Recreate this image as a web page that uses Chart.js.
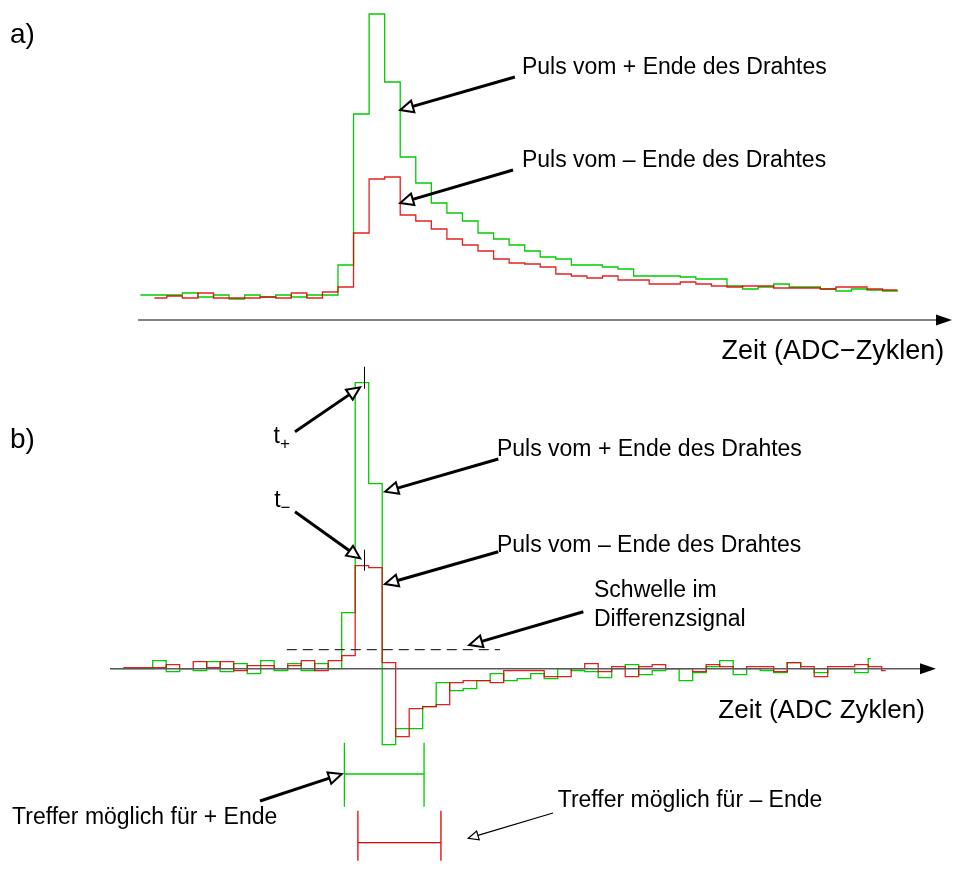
<!DOCTYPE html>
<html>
<head>
<meta charset="utf-8">
<script src="https://cdn.jsdelivr.net/npm/chart.js@4/dist/chart.umd.min.js"></script>
<style>
  html, body { margin: 0; padding: 0; background: #fff; }
  #wrap { position: relative; width: 953px; height: 871px; }
  canvas { display: block; }
</style>
</head>
<body>
<div id="wrap"><canvas id="pulses" width="953" height="871"></canvas></div>
<script>
// ---------- a) raw pulses from both wire ends (ADC cycle bins, ADC counts) ----------
const cyclesA = [0,1,2,3,4,5,6,7,8,9,10,11,12,13,14,15,16,17,18,19,20,21,22,23,24,
                 25,26,27,28,29,30,31,32,33,34,35,36,37,38,39,40,41,42,43,44,45,46,47,48];
const plusEndA  = [1,1,1,3,-1,1,-3,1,-1,1,-1,1,1,31,182,282,214,139,113,93,83,75,63,57,51,
                   45,39,37,31,31,29,27,20,20,20,19,17,17,10,7,9,12,9,9,7,5,7,6,5];
const minusEndA = [null,-2,0,-2,3,-2,-2,-2,-1,-2,3,-2,4,9,63,117,119,81,75,67,57,51,45,37,33,
                   32,29,22,20,18,20,16,16,12,12,14,12,10,9,10,10,8,8,8,7,9,9,7,6];
const plusSpanA  = [0.3, 49];     // first / last sample time of each trace
const minusSpanA = [1.2, 48.95];

// ---------- b) differentiated pulses ----------
const cyclesB = [0,1,2,3,4,5,6,7,8,9,10,11,12,13,14,15,16,17,18,19,20,21,22,23,24,25,26,27,28,
                 29,30,31,32,33,34,35,36,37,38,39,40,41,42,43,44,45,46,47,48,49,50,51,52,53,54,55,56,57];
const plusEndB  = [0,0,0,8,-3,0,-2,7,-3,5,-5,8,-2,5,-2,5,0,56,286,185,-76,-60,-60,-38,-14,-22,-20,-12,
                   -5,-12,-10,-5,-10,0,-2,-3,-9,0,4,-6,-2,0,-12,-4,2,8,-6,0,-2,-4,6,0,-4,0,0,-4,10,null];
const minusEndB = [1,1,1,1,4,0,7,1,7,-2,3,3,0,3,8,-2,8,13,103,101,6,-68,-40,-38,-36,-14,-12,-12,
                   -14,-2,-2,-2,-8,-8,0,5,-3,2,-8,2,4,0,0,-3,4,2,0,2,2,-3,6,2,-8,2,2,4,2,-2];
const plusSpanB  = [-0.15, 56.2];
const minusSpanB = [0.82, 57.3];
const thresholdB = 19;            // discriminator threshold on the difference signal
const windowPlus  = [17.2, 23.1]; // hit windows (ADC cycles)
const windowMinus = [18.2, 24.35];
const tPlus = 18.67, tMinus = 18.67;

// ---------- layout of the two panels on the page ----------
const W = 953, H = 871;
const panelA = { x0: 135.7, dx: 15.56, y0: 296,   dy: 1 };
const panelB = { x0: 112.2, dx: 13.5,  y0: 668.7, dy: 1 };

const GREEN = 'rgb(0,205,0)';
const RED = 'rgba(225,0,0,0.88)';
const FONT = '"Liberation Sans", Arial, Helvetica, sans-serif';

// histogram outline: each bin drawn as a flat step, joined by vertical edges
function steps(bins, vals, span) {
  const pts = [];
  let first = true;
  let lastIdx = -1;
  for (let i = 0; i < bins.length; i++) if (vals[i] !== null && vals[i] !== undefined) lastIdx = i;
  for (let i = 0; i < bins.length; i++) {
    const v = vals[i];
    if (v === null || v === undefined) continue;
    let x0 = bins[i], x1 = bins[i] + 1;
    if (first) { x0 = span[0]; first = false; }
    if (i === lastIdx) x1 = span[1];
    pts.push({ x: x0, y: v }, { x: x1, y: v });
  }
  return pts;
}

function range(p) {
  return {
    x: { min: -p.x0 / p.dx, max: (W - p.x0) / p.dx },
    y: { min: (p.y0 - H) / p.dy, max: p.y0 / p.dy }
  };
}
const rA = range(panelA), rB = range(panelB);

// ---------- annotations (in each panel's data units) ----------
const labels = [
  { p: 'A', x: -8.08, y: 261, text: 'a)', size: 28 },
  { p: 'A', x: 24.82, y: 228, text: 'Puls vom + Ende des Drahtes', size: 23 },
  { p: 'A', x: 24.82, y: 135, text: 'Puls vom \u2013 Ende des Drahtes', size: 23 },
  { p: 'A', x: 51.96, y: -56, text: 'Zeit (ADC\u2212Zyklen)', size: 27, align: 'right' },
  { p: 'B', x: -7.57, y: 228.7, text: 'b)', size: 28 },
  { p: 'B', x: 28.5, y: 218.7, text: 'Puls vom + Ende des Drahtes', size: 23 },
  { p: 'B', x: 28.5, y: 122.7, text: 'Puls vom \u2013 Ende des Drahtes', size: 23 },
  { p: 'B', x: 35.69, y: 77.7, text: 'Schwelle im', size: 23 },
  { p: 'B', x: 35.69, y: 48.7, text: 'Differenzsignal', size: 23 },
  { p: 'B', x: 60.2, y: -42.3, text: 'Zeit (ADC Zyklen)', size: 26, align: 'right' },
  { p: 'B', x: -7.42, y: -149.3, text: 'Treffer m\u00f6glich f\u00fcr + Ende', size: 23 },
  { p: 'B', x: 33.0, y: -132.3, text: 'Treffer m\u00f6glich f\u00fcr \u2013 Ende', size: 23 }
];
const arrows = [
  { p: 'A', from: [24.37, 219], to: [17.0, 186], w: 3 },
  { p: 'A', from: [24.25, 126], to: [17.0, 93], w: 3 },
  { p: 'B', from: [13.54, 237], to: [18.36, 281.4], w: 3 },
  { p: 'B', from: [13.54, 157], to: [18.36, 110.4], w: 3 },
  { p: 'B', from: [28.6, 209.7], to: [20.21, 177], w: 3 },
  { p: 'B', from: [28.6, 117], to: [20.21, 84.7], w: 3 },
  { p: 'B', from: [34.9, 57], to: [26.45, 23.7], w: 3 },
  { p: 'B', from: [10.95, -132.3], to: [17.0, -105.3], w: 3 },
  { p: 'B', from: [32.65, -144.3], to: [26.38, -169.6], w: 1.2, head: 10, half: 4.5 }
];

function px(chart, p, x, y) {
  const sx = chart.scales['x' + p], sy = chart.scales['y' + p];
  return [sx.getPixelForValue(x), sy.getPixelForValue(y)];
}

function drawArrow(ctx, a, b, w, head, half) {
  const ang = Math.atan2(b[1] - a[1], b[0] - a[0]);
  const bx = b[0] - Math.cos(ang) * head, by = b[1] - Math.sin(ang) * head;
  ctx.strokeStyle = '#000';
  ctx.lineCap = 'butt';
  ctx.lineWidth = w;
  ctx.beginPath(); ctx.moveTo(a[0], a[1]); ctx.lineTo(bx, by); ctx.stroke();
  const nx = -Math.sin(ang), ny = Math.cos(ang);
  ctx.beginPath();
  ctx.moveTo(b[0], b[1]);
  ctx.lineTo(bx + nx * half, by + ny * half);
  ctx.lineTo(bx - nx * half, by - ny * half);
  ctx.closePath();
  ctx.fillStyle = '#fff'; ctx.fill();
  ctx.lineWidth = Math.min(2, w); ctx.lineJoin = 'miter'; ctx.stroke();
}

function drawAxis(ctx, a, b) {
  ctx.strokeStyle = '#5a5a5a'; ctx.lineWidth = 1.5;
  ctx.beginPath(); ctx.moveTo(a[0], a[1]); ctx.lineTo(b[0] - 15, b[1]); ctx.stroke();
  ctx.fillStyle = '#000';
  ctx.beginPath();
  ctx.moveTo(b[0], b[1]); ctx.lineTo(b[0] - 16, b[1] - 5.5); ctx.lineTo(b[0] - 16, b[1] + 5.5);
  ctx.closePath(); ctx.fill();
}

const annotate = {
  id: 'annotate',
  afterDatasetsDraw(chart) {
    const ctx = chart.ctx;
    ctx.save();
    // time axes
    drawAxis(ctx, px(chart, 'A', 0.15, -24), px(chart, 'A', 52.46, -24));
    drawAxis(ctx, px(chart, 'B', -0.16, 0), px(chart, 'B', 61.02, 0));

    // threshold
    ctx.strokeStyle = '#333'; ctx.lineWidth = 1.3; ctx.setLineDash([10, 6]);
    let a = px(chart, 'B', 12.93, thresholdB), b = px(chart, 'B', 28.73, thresholdB);
    ctx.beginPath(); ctx.moveTo(a[0], a[1]); ctx.lineTo(b[0], b[1]); ctx.stroke();
    ctx.setLineDash([]);

    // timing marks t+ / t-
    ctx.strokeStyle = '#000'; ctx.lineWidth = 1;
    [[tPlus, 302, 280], [tMinus, 119, 98]].forEach(([t, y1, y2]) => {
      const p1 = px(chart, 'B', t, y1), p2 = px(chart, 'B', t, y2);
      ctx.beginPath(); ctx.moveTo(Math.round(p1[0]) + 0.5, p1[1]); ctx.lineTo(Math.round(p2[0]) + 0.5, p2[1]); ctx.stroke();
    });

    // hit windows
    [[windowPlus, -74, -138, -105.3, GREEN], [windowMinus, -142, -192, -174, 'rgb(230,0,0)']].forEach(([win, top, bot, mid, col]) => {
      ctx.strokeStyle = col; ctx.lineWidth = 1.3;
      const l1 = px(chart, 'B', win[0], top), l2 = px(chart, 'B', win[0], bot);
      const r1 = px(chart, 'B', win[1], top), r2 = px(chart, 'B', win[1], bot);
      const m1 = px(chart, 'B', win[0], mid), m2 = px(chart, 'B', win[1], mid);
      ctx.beginPath();
      ctx.moveTo(l1[0], l1[1]); ctx.lineTo(l2[0], l2[1]);
      ctx.moveTo(r1[0], r1[1]); ctx.lineTo(r2[0], r2[1]);
      ctx.moveTo(m1[0], m1[1]); ctx.lineTo(m2[0], m2[1]);
      ctx.stroke();
    });

    // arrows
    arrows.forEach(ar => {
      drawArrow(ctx, px(chart, ar.p, ar.from[0], ar.from[1]), px(chart, ar.p, ar.to[0], ar.to[1]),
                ar.w, ar.head || 13, ar.half || 6);
    });

    // texts
    ctx.fillStyle = '#000';
    ctx.textBaseline = 'middle';
    labels.forEach(l => {
      const q = px(chart, l.p, l.x, l.y);
      ctx.font = l.size + 'px ' + FONT;
      ctx.textAlign = l.align || 'left';
      ctx.fillText(l.text, q[0], q[1]);
    });

    // t+ and t- with subscripts
    ctx.textAlign = 'left';
    ctx.textBaseline = 'alphabetic';
    [['+', 11.95, 226], ['\u2212', 12.0, 162]].forEach(([sub, x, yb]) => {
      const q = px(chart, 'B', x, yb);
      ctx.font = '23px ' + FONT;
      ctx.fillText('t', q[0], q[1]);
      const tw = ctx.measureText('t').width;
      ctx.font = '17px ' + FONT;
      ctx.fillText(sub, q[0] + tw, q[1] + 6);
    });
    ctx.restore();
  }
};

function series(data, color, xId, yId) {
  return {
    data, xAxisID: xId, yAxisID: yId,
    borderColor: color, borderWidth: 1.3, pointRadius: 0,
    tension: 0, fill: false, spanGaps: false, borderJoinStyle: 'miter'
  };
}

new Chart(document.getElementById('pulses').getContext('2d'), {
  type: 'line',
  data: {
    datasets: [
      series(steps(cyclesA, minusEndA, minusSpanA), RED, 'xA', 'yA'),
      series(steps(cyclesB, minusEndB, minusSpanB), RED, 'xB', 'yB'),
      series(steps(cyclesA, plusEndA, plusSpanA), GREEN, 'xA', 'yA'),
      series(steps(cyclesB, plusEndB, plusSpanB), GREEN, 'xB', 'yB')
    ]
  },
  options: {
    responsive: false,
    animation: false,
    events: [],
    layout: { padding: 0 },
    plugins: { legend: { display: false }, tooltip: { enabled: false }, title: { display: false } },
    scales: {
      xA: { type: 'linear', display: false, min: rA.x.min, max: rA.x.max },
      yA: { type: 'linear', display: false, min: rA.y.min, max: rA.y.max },
      xB: { type: 'linear', display: false, min: rB.x.min, max: rB.x.max },
      yB: { type: 'linear', display: false, min: rB.y.min, max: rB.y.max }
    }
  },
  plugins: [annotate]
});
</script>
</body>
</html>
